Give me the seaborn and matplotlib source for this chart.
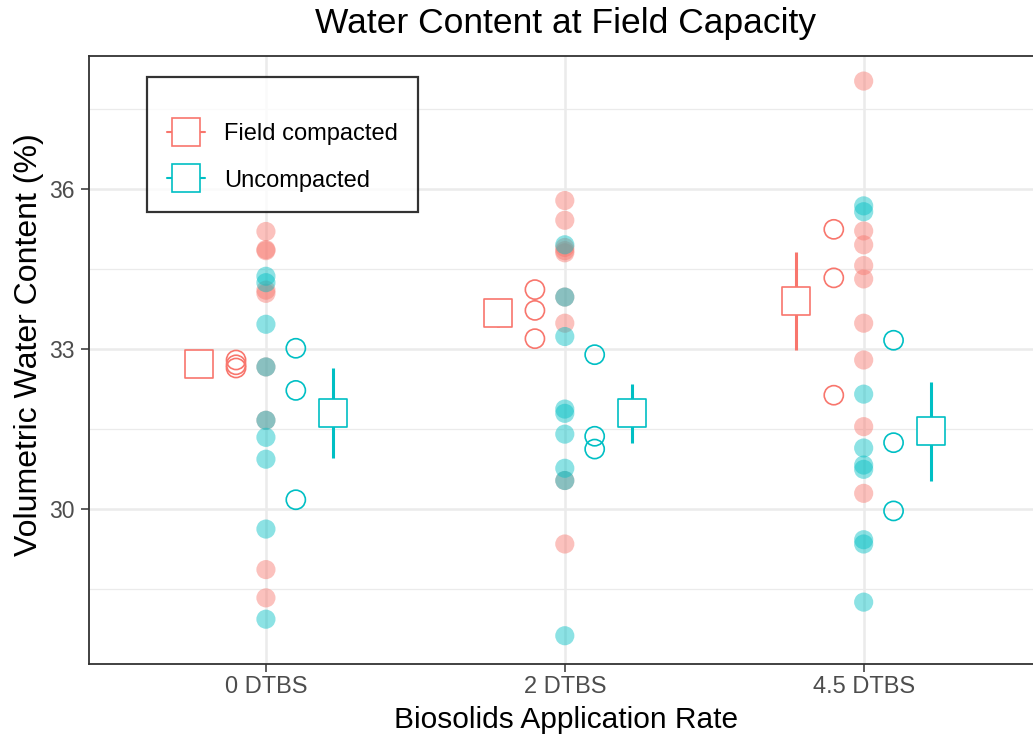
import numpy as np
import pandas as pd
import matplotlib
matplotlib.use("Agg")
import matplotlib.pyplot as plt
from matplotlib.lines import Line2D
from matplotlib.ticker import MultipleLocator
import seaborn as sns

# ---------------- data ----------------
rates = ["0 DTBS", "2 DTBS", "4.5 DTBS"]
treatments = ["Field compacted", "Uncompacted"]

# individual observations (filled, translucent dots)
fc_obs_0 = [35.20, 34.86, 34.84, 34.10, 34.04, 32.66, 31.66, 28.86, 28.33]
fc_obs_2 = [35.78, 35.41, 34.90, 34.84, 34.80, 33.97, 33.48, 30.53, 29.34]
fc_obs_45 = [38.02, 35.21, 34.95, 34.56, 34.31, 33.48, 32.79, 31.54, 30.29]
un_obs_0 = [34.36, 34.24, 33.46, 32.66, 31.66, 31.34, 30.93, 29.62, 27.93]
un_obs_2 = [34.95, 33.97, 33.23, 31.87, 31.79, 31.40, 30.76, 30.53, 27.62]
un_obs_45 = [35.68, 35.57, 32.15, 31.14, 30.82, 30.74, 29.42, 29.34, 28.25]

# plot means (open circles)
fc_plot_0 = [32.79, 32.70, 32.64]
fc_plot_2 = [34.11, 33.72, 33.19]
fc_plot_45 = [35.24, 34.33, 32.13]
un_plot_0 = [33.01, 32.22, 30.17]
un_plot_2 = [32.89, 31.36, 31.12]
un_plot_45 = [33.16, 31.24, 29.96]

colors = {"Field compacted": "#F8766D", "Uncompacted": "#00BFC4"}

obs = {("Field compacted", 0): fc_obs_0, ("Field compacted", 1): fc_obs_2,
       ("Field compacted", 2): fc_obs_45, ("Uncompacted", 0): un_obs_0,
       ("Uncompacted", 1): un_obs_2, ("Uncompacted", 2): un_obs_45}
plots = {("Field compacted", 0): fc_plot_0, ("Field compacted", 1): fc_plot_2,
         ("Field compacted", 2): fc_plot_45, ("Uncompacted", 0): un_plot_0,
         ("Uncompacted", 1): un_plot_2, ("Uncompacted", 2): un_plot_45}

circ_off = {"Field compacted": -0.10, "Uncompacted": 0.10}
sq_off = {"Field compacted": -0.225, "Uncompacted": 0.225}

rows_obs, rows_plot, rows_mean = [], [], []
for (t, i), vals in obs.items():
    for v in vals:
        rows_obs.append(dict(x=i, y=v, trt=t))
for (t, i), vals in plots.items():
    for v in vals:
        rows_plot.append(dict(x=i + circ_off[t], y=v, trt=t))
    m = np.mean(vals)
    se = np.std(vals, ddof=1) / np.sqrt(len(vals))
    rows_mean.append(dict(x=i + sq_off[t], y=m, se=se, trt=t))
df_obs = pd.DataFrame(rows_obs)
df_plot = pd.DataFrame(rows_plot)
df_mean = pd.DataFrame(rows_mean)

# ---------------- figure ----------------
sns.set_theme(style="white")
plt.rcParams["font.family"] = ["Liberation Sans", "DejaVu Sans"]

W, H = 1033, 740
fig = plt.figure(figsize=(W / 100, H / 100), dpi=100)
left, right, top, bottom = 89, 1043, 56, 664
ax = fig.add_axes([left / W, (H - bottom) / H, (right - left) / W, (bottom - top) / H])

# grid
ax.set_axisbelow(True)
ax.yaxis.set_major_locator(MultipleLocator(3))
ax.yaxis.set_minor_locator(MultipleLocator(1.5))
ax.grid(which="major", color="#EBEBEB", linewidth=1.8)
ax.grid(which="minor", axis="y", color="#EBEBEB", linewidth=0.9)

# filled observations
sns.scatterplot(data=df_obs, x="x", y="y", hue="trt", palette=colors,
                s=190, alpha=0.45, linewidth=0, ax=ax, legend=False, zorder=3)

# open circles (plot means)
for t in treatments:
    d = df_plot[df_plot.trt == t]
    sns.scatterplot(data=d, x="x", y="y", s=190, facecolor="none",
                    edgecolor=colors[t], linewidth=1.2, ax=ax, legend=False,
                    zorder=4)

# treatment means with SE bars
for t in treatments:
    d = df_mean[df_mean.trt == t]
    ax.errorbar(d.x, d.y, yerr=d.se, fmt="none", ecolor=colors[t],
                elinewidth=2.2, capsize=0, zorder=4)
    sns.scatterplot(data=d, x="x", y="y", marker="s", s=390, color="white",
                    edgecolor=colors[t], linewidth=1.2, ax=ax, legend=False,
                    zorder=5)

ax.set_xlim(-0.592, 2.6)
ax.set_ylim(27.09, 38.49)
ax.set_xticks([0, 1, 2])
ax.set_xticklabels(rates)
ax.set_yticks([30, 33, 36])
ax.set_yticklabels(["30", "33", "36"])
ax.tick_params(axis="both", which="major", length=5.5, width=1.1, color="#333333",
               labelsize=17, labelcolor="#4D4D4D", left=True, bottom=True)
ax.tick_params(axis="x", which="major", pad=3)
ax.tick_params(axis="y", which="major", labelsize=16.5, pad=5)
ax.tick_params(axis="y", which="minor", length=0)

for sp in ax.spines.values():
    sp.set_color("#333333")
    sp.set_linewidth(1.3)

ax.set_xlabel("Biosolids Application Rate", fontsize=21.5, color="black", labelpad=6)
ax.set_ylabel("Volumetric Water Content (%)", fontsize=23, color="black")
ax.yaxis.set_label_coords(-0.047, 0.525)
fig.text(566 / W, 1 - 23 / H, "Water Content at Field Capacity", fontsize=25.5,
         ha="center", va="center", color="black")

handles = [Line2D([], [], color=colors[t], marker="s", markersize=19.5,
                  markerfacecolor="white", markeredgecolor=colors[t],
                  markeredgewidth=1.2, linewidth=1.5) for t in treatments]
leg = ax.legend(handles, treatments, loc="upper left",
                bbox_to_anchor=(147 / W, 1 - 77 / H), bbox_transform=fig.transFigure,
                frameon=True, fancybox=False, edgecolor="black", fontsize=17,
                title=" ", title_fontsize=1,
                handlelength=1.6, handletextpad=0.8, borderpad=0.85,
                labelspacing=1.05, borderaxespad=0)
leg.get_frame().set_linewidth(1.6)
for txt in leg.get_texts():
    txt.set_color("black")

fig.savefig("out.png", dpi=100)
